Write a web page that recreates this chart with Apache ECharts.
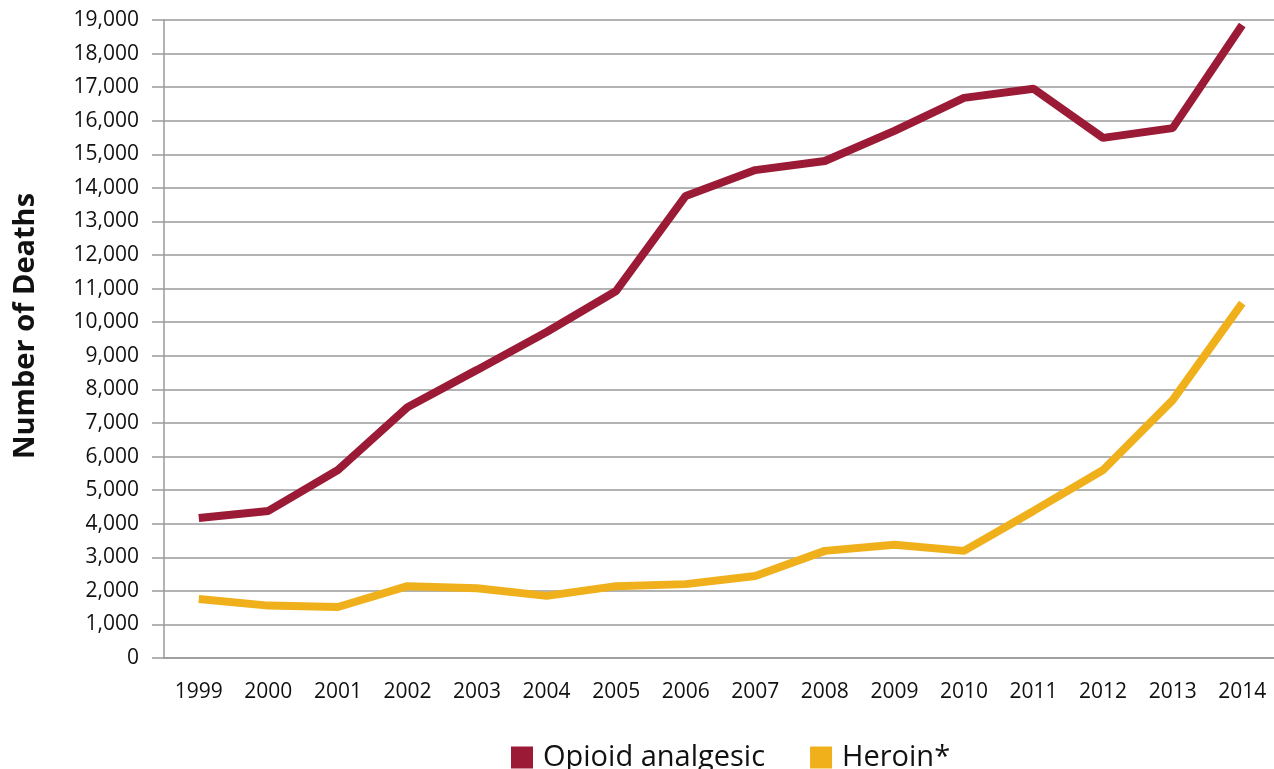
<!DOCTYPE html>
<html>
<head>
<meta charset="utf-8">
<script src="https://cdn.jsdelivr.net/npm/echarts@6/dist/echarts.min.js"></script>
<style>
  html, body { margin: 0; padding: 0; background: #fff; }
  #chart { width: 1274px; height: 769px; }
</style>
</head>
<body>
<div id="chart"></div>
<script>
const years = ["1999", "2000", "2001", "2002", "2003", "2004", "2005", "2006",
  "2007", "2008", "2009", "2010", "2011", "2012", "2013", "2014"];
const opioidDeaths = [4170, 4380, 5600, 7470, 8580, 9710, 10930, 13760,
  14530, 14800, 15700, 16680, 16950, 15490, 15780, 18850];
const heroinDeaths = [1760, 1560, 1520, 2140, 2080, 1850, 2140, 2200,
  2440, 3190, 3370, 3190, 4380, 5600, 7680, 10570];

const chart = echarts.init(document.getElementById("chart"), null, { renderer: "canvas" });
const gridGrey = "#9a9a9a";
const font = "'Open Sans', sans-serif";

chart.setOption({
  backgroundColor: "#fff",
  animation: false,
  grid: { left: 164, right: -3, top: 20, bottom: 111, outerBoundsMode: "none", containLabel: false },
  legend: {
    left: 506,
    top: 738,
    icon: "rect",
    itemWidth: 22,
    itemHeight: 22,
    itemGap: 45,
    textStyle: { fontFamily: font, fontSize: 29, color: "#111", padding: [0, 0, 0, 5] },
    data: ["Opioid analgesic", "Heroin*"]
  },
  graphic: [{
    type: "text",
    x: 26,
    y: 326,
    rotation: Math.PI / 2,
    style: {
      text: "Number of Deaths",
      fontFamily: font,
      fontSize: 29,
      fontWeight: "bold",
      fill: "#111",
      textAlign: "center",
      textVerticalAlign: "middle"
    }
  }],
  xAxis: {
    type: "category",
    data: years,
    boundaryGap: true,
    axisLine: { lineStyle: { color: gridGrey, width: 1.5 } },
    axisTick: { alignWithLabel: true, length: 18, lineStyle: { color: gridGrey, width: 1.5 } },
    axisLabel: { fontFamily: font, fontSize: 21, color: "#111", margin: 24 }
  },
  yAxis: {
    type: "value",
    min: 0,
    max: 19000,
    interval: 1000,
    axisLine: { show: true, lineStyle: { color: gridGrey, width: 1.5 } },
    axisTick: { show: true, length: 12, lineStyle: { color: gridGrey, width: 1.5 } },
    axisLabel: {
      fontFamily: font, fontSize: 21, color: "#111", margin: 25,
      formatter: v => v.toLocaleString("en-US")
    },
    splitLine: { lineStyle: { color: gridGrey, width: 1.5 } }
  },
  series: [
    {
      name: "Opioid analgesic",
      type: "line",
      data: opioidDeaths,
      symbol: "none",
      color: "#9b1a35",
      lineStyle: { width: 8, color: "#9b1a35" }
    },
    {
      name: "Heroin*",
      type: "line",
      data: heroinDeaths,
      symbol: "none",
      color: "#efb01b",
      lineStyle: { width: 8, color: "#efb01b" }
    }
  ]
});
</script>
</body>
</html>
